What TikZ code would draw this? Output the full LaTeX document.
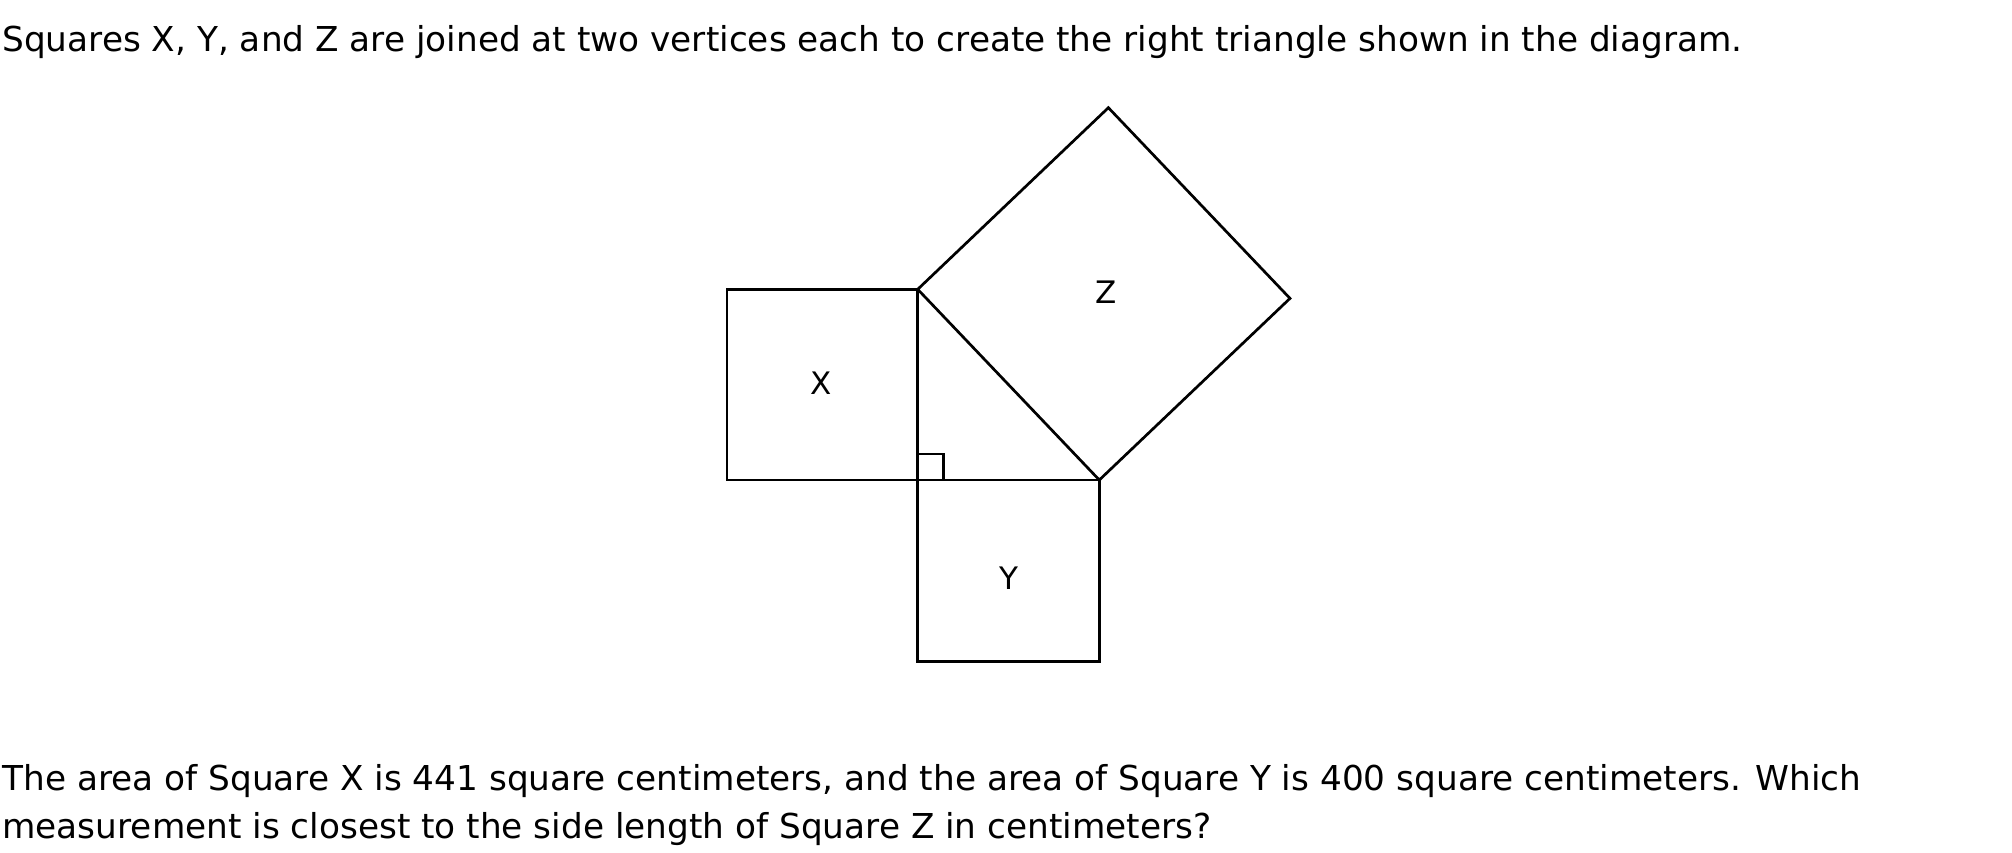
\documentclass[tikz,border=0pt]{standalone}
\usepackage{fontspec}
\setmainfont{DejaVu Sans}
\usetikzlibrary{positioning,calc}

\begin{document}
\begin{tikzpicture}[x = .5pt, y = .5pt, every node/.style = {inner sep = 0pt, font = \fontsize{17.15}{24}\selectfont}, lab/.style = {font = \fontsize{15.5}{18}\selectfont}]
\useasboundingbox (0, 0) rectangle (2012, 852);
\node[anchor = base west] (top) at (2, 800) {Squares X, Y, and Z are joined at two vertices each to create the right triangle shown in the diagram.};
\node[anchor = base west, align = left] (q) at (2, 14) {The area of Square X is 441 square centimeters, and the area of Square Y is 400 square centimeters. Which\\measurement is closest to the side length of Square Z in centimeters?};
\begin{scope}[shift = {(917.7, 372)}, x = 4.54pt, y = 4.54pt, line width = 1.35pt]
\coordinate (c) at (0, 0);
\coordinate (b) at (0, 21);
\coordinate (d) at (20, 0);
\coordinate (x1) at (-21, 0);
\coordinate (x2) at (-21, 21);
\coordinate (y1) at (0, -20);
\coordinate (y2) at (20, -20);
\coordinate (z1) at (21, 41);
\coordinate (z2) at (41, 20);
\draw (c) -- (x1) -- (x2) -- (b) -- cycle;
\draw (c) -- (y1) -- (y2) -- (d) -- cycle;
\draw (b) -- (z1) -- (z2) -- (d) -- cycle;
\draw (0, 2.85) -- (2.85, 2.85) -- (2.85, 0);
\node[lab] (sx) at (-10.6, 10.7) {X};
\node[lab] (sy) at (10.1, -10.8) {Y};
\node[lab] (sz) at (20.7, 20.7) {Z};
\end{scope}
\end{tikzpicture}
\end{document}
